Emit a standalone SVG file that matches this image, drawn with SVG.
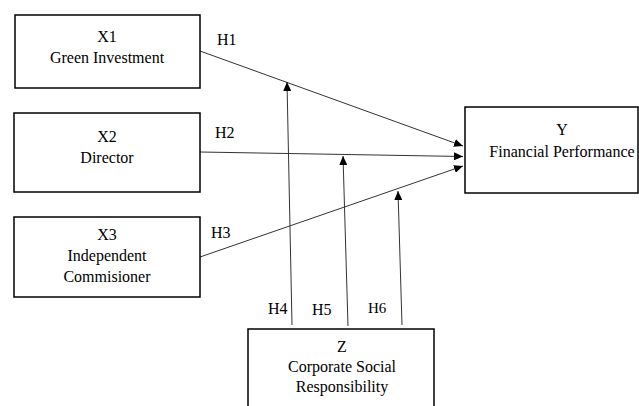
<svg xmlns="http://www.w3.org/2000/svg" width="639" height="406" viewBox="0 0 639 406">
<style>
.box{fill:#fff;stroke:#000;stroke-width:1.5}
.t{font-family:"Liberation Serif","Times New Roman",serif;font-size:16px;fill:#000;text-anchor:middle}
.h{font-family:"Liberation Serif","Times New Roman",serif;font-size:16px;fill:#000}
.c{stroke:#333;stroke-width:1;fill:none;marker-end:url(#a)}
</style>
<defs>
<marker id="a" markerUnits="userSpaceOnUse" markerWidth="10" markerHeight="8" refX="9" refY="4" orient="auto">
<path d="M0,0 L9,4 L0,8 Z" fill="#000"/>
</marker>
</defs>
<rect width="639" height="406" fill="#fff"/>
<g id="connectors">
<line class="c" x1="200" y1="51" x2="463" y2="146"/>
<line class="c" x1="200" y1="152" x2="463" y2="156.5"/>
<line class="c" x1="200" y1="257" x2="463" y2="166"/>
<line class="c" x1="292" y1="325" x2="287" y2="82"/>
<line class="c" x1="348" y1="326" x2="343" y2="156"/>
<line class="c" x1="402" y1="325" x2="398" y2="191"/>
<text class="h" x="217" y="45">H1</text>
<text class="h" x="215" y="138">H2</text>
<text class="h" x="211" y="238">H3</text>
<text class="h" x="268" y="314">H4</text>
<text class="h" x="312" y="315">H5</text>
<text class="h" x="368" y="313" style="font-size:15px">H6</text>
</g>
<g id="x1">
<rect class="box" x="15" y="15" width="185" height="73"/>
<text class="t" x="107" y="42">X1</text>
<text class="t" x="107" y="63">Green Investment</text>
</g>
<g id="x2">
<rect class="box" x="14" y="113" width="186" height="79"/>
<text class="t" x="107" y="142">X2</text>
<text class="t" x="107" y="163">Director</text>
</g>
<g id="x3">
<rect class="box" x="14" y="217" width="186" height="80"/>
<text class="t" x="107" y="240">X3</text>
<text class="t" x="107" y="261">Independent</text>
<text class="t" x="107" y="282">Commisioner</text>
</g>
<g id="y">
<rect class="box" x="465" y="107" width="173" height="86"/>
<text class="t" x="562" y="135">Y</text>
<text class="t" x="562" y="157">Financial Performance</text>
</g>
<g id="z">
<rect class="box" x="248" y="329" width="186" height="95"/>
<text class="t" x="342" y="352">Z</text>
<text class="t" x="342" y="372">Corporate Social</text>
<text class="t" x="342" y="392">Responsibility</text>
</g>
</svg>
